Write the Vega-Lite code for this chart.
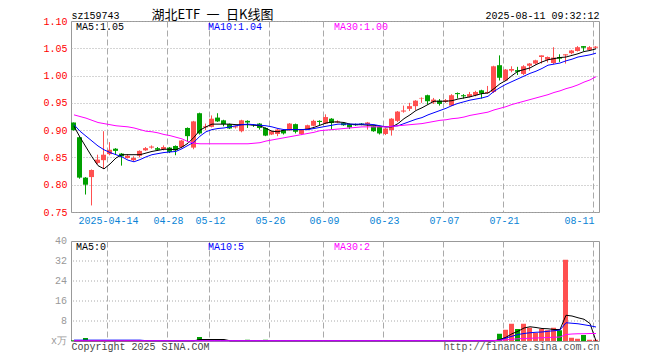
{
  "$schema": "https://vega.github.io/schema/vega-lite/v6.json",
  "padding": {"left": 42, "top": 7, "right": 0, "bottom": 0},
  "background": "white",
  "bounds": "flush",
  "spacing": 29,
  "config": {
    "view": {"stroke": "#999999", "strokeWidth": 1},
    "font": "Liberation Mono",
    "axis": {
      "labelFont": "Liberation Mono", "labelFontSize": 10,
      "titleFont": "Liberation Mono", "titleFontSize": 10, "titleFontWeight": "normal",
      "domain": false, "ticks": false, "labelOverlap": false
    }
  },
  "datasets": {
    "k": [
      {"d":"2025-04-03","o":0.914,"h":0.914,"l":0.899,"c":0.900,"v":0.3,"m5":0.907,"m10":0.910,"m30":0.928,"vm5":0.1,"vm10":0.35,"vm30":0.1},
      {"d":"2025-04-07","o":0.887,"h":0.888,"l":0.811,"c":0.813,"v":0.3,"m5":0.887,"m10":0.898,"m30":0.925,"vm5":0.1,"vm10":0.35,"vm30":0.1},
      {"d":"2025-04-08","o":0.813,"h":0.814,"l":0.782,"c":0.800,"v":1.2,"m5":0.869,"m10":0.889,"m30":0.922,"vm5":0.1,"vm10":0.35,"vm30":0.1},
      {"d":"2025-04-09","o":0.814,"h":0.828,"l":0.762,"c":0.827,"v":0.3,"m5":0.851,"m10":0.880,"m30":0.918,"vm5":0.1,"vm10":0.35,"vm30":0.1},
      {"d":"2025-04-10","o":0.840,"h":0.855,"l":0.838,"c":0.846,"v":0.3,"m5":0.835,"m10":0.871,"m30":0.914,"vm5":0.1,"vm10":0.35,"vm30":0.1},
      {"d":"2025-04-11","o":0.845,"h":0.898,"l":0.829,"c":0.855,"v":0.3,"m5":0.829,"m10":0.864,"m30":0.912,"vm5":0.1,"vm10":0.35,"vm30":0.1},
      {"d":"2025-04-14","o":0.856,"h":0.878,"l":0.854,"c":0.864,"v":0.3,"m5":0.838,"m10":0.859,"m30":0.910,"vm5":0.1,"vm10":0.35,"vm30":0.1},
      {"d":"2025-04-15","o":0.866,"h":0.867,"l":0.855,"c":0.862,"v":0.3,"m5":0.849,"m10":0.855,"m30":0.908,"vm5":0.1,"vm10":0.35,"vm30":0.1},
      {"d":"2025-04-16","o":0.857,"h":0.858,"l":0.835,"c":0.852,"v":0.3,"m5":0.855,"m10":0.851,"m30":0.907,"vm5":0.1,"vm10":0.35,"vm30":0.1},
      {"d":"2025-04-17","o":0.849,"h":0.856,"l":0.848,"c":0.853,"v":0.3,"m5":0.855,"m10":0.845,"m30":0.906,"vm5":0.1,"vm10":0.35,"vm30":0.1},
      {"d":"2025-04-18","o":0.845,"h":0.852,"l":0.843,"c":0.849,"v":0.3,"m5":0.855,"m10":0.842,"m30":0.904,"vm5":0.1,"vm10":0.35,"vm30":0.1},
      {"d":"2025-04-21","o":0.853,"h":0.863,"l":0.850,"c":0.862,"v":0.3,"m5":0.855,"m10":0.846,"m30":0.901,"vm5":0.1,"vm10":0.35,"vm30":0.1},
      {"d":"2025-04-22","o":0.863,"h":0.869,"l":0.862,"c":0.867,"v":0.3,"m5":0.858,"m10":0.851,"m30":0.898,"vm5":0.1,"vm10":0.15,"vm30":0.1},
      {"d":"2025-04-23","o":0.868,"h":0.872,"l":0.866,"c":0.870,"v":0.3,"m5":0.861,"m10":0.855,"m30":0.897,"vm5":0.1,"vm10":0.15,"vm30":0.1},
      {"d":"2025-04-24","o":0.867,"h":0.869,"l":0.863,"c":0.864,"v":0.3,"m5":0.863,"m10":0.857,"m30":0.895,"vm5":0.1,"vm10":0.15,"vm30":0.1},
      {"d":"2025-04-25","o":0.865,"h":0.872,"l":0.863,"c":0.869,"v":0.3,"m5":0.865,"m10":0.859,"m30":0.892,"vm5":0.1,"vm10":0.15,"vm30":0.1},
      {"d":"2025-04-28","o":0.868,"h":0.869,"l":0.858,"c":0.860,"v":0.3,"m5":0.865,"m10":0.860,"m30":0.890,"vm5":0.1,"vm10":0.15,"vm30":0.1},
      {"d":"2025-04-29","o":0.871,"h":0.872,"l":0.854,"c":0.863,"v":0.3,"m5":0.864,"m10":0.861,"m30":0.887,"vm5":0.1,"vm10":0.15,"vm30":0.1},
      {"d":"2025-04-30","o":0.869,"h":0.882,"l":0.867,"c":0.881,"v":0.3,"m5":0.869,"m10":0.866,"m30":0.884,"vm5":0.1,"vm10":0.15,"vm30":0.1},
      {"d":"2025-05-06","o":0.904,"h":0.905,"l":0.878,"c":0.889,"v":0.3,"m5":0.876,"m10":0.872,"m30":0.879,"vm5":0.1,"vm10":0.15,"vm30":0.1},
      {"d":"2025-05-07","o":0.868,"h":0.917,"l":0.865,"c":0.916,"v":0.3,"m5":0.887,"m10":0.878,"m30":0.876,"vm5":0.1,"vm10":0.15,"vm30":0.1},
      {"d":"2025-05-08","o":0.931,"h":0.932,"l":0.892,"c":0.894,"v":1.6,"m5":0.900,"m10":0.889,"m30":0.875,"vm5":0.6,"vm10":0.15,"vm30":0.1},
      {"d":"2025-05-09","o":0.905,"h":0.912,"l":0.900,"c":0.907,"v":0.3,"m5":0.906,"m10":0.897,"m30":0.875,"vm5":0.6,"vm10":0.15,"vm30":0.1},
      {"d":"2025-05-12","o":0.906,"h":0.927,"l":0.905,"c":0.921,"v":0.3,"m5":0.911,"m10":0.901,"m30":0.875,"vm5":0.6,"vm10":0.15,"vm30":0.1},
      {"d":"2025-05-13","o":0.923,"h":0.931,"l":0.915,"c":0.916,"v":0.3,"m5":0.911,"m10":0.903,"m30":0.875,"vm5":0.6,"vm10":0.15,"vm30":0.1},
      {"d":"2025-05-14","o":0.918,"h":0.919,"l":0.907,"c":0.911,"v":0.3,"m5":0.911,"m10":0.904,"m30":0.875,"vm5":0.6,"vm10":0.15,"vm30":0.1},
      {"d":"2025-05-15","o":0.911,"h":0.912,"l":0.902,"c":0.903,"v":0.3,"m5":0.911,"m10":0.906,"m30":0.875,"vm5":0.1,"vm10":0.15,"vm30":0.1},
      {"d":"2025-05-16","o":0.905,"h":0.908,"l":0.903,"c":0.907,"v":0.3,"m5":0.910,"m10":0.908,"m30":0.875,"vm5":0.1,"vm10":0.15,"vm30":0.1},
      {"d":"2025-05-19","o":0.898,"h":0.919,"l":0.896,"c":0.918,"v":0.3,"m5":0.910,"m10":0.910,"m30":0.875,"vm5":0.1,"vm10":0.15,"vm30":0.1},
      {"d":"2025-05-20","o":0.917,"h":0.918,"l":0.904,"c":0.914,"v":0.5,"m5":0.910,"m10":0.911,"m30":0.875,"vm5":0.1,"vm10":0.15,"vm30":0.1},
      {"d":"2025-05-21","o":0.910,"h":0.911,"l":0.906,"c":0.909,"v":0.3,"m5":0.909,"m10":0.910,"m30":0.876,"vm5":0.1,"vm10":0.15,"vm30":0.1},
      {"d":"2025-05-22","o":0.912,"h":0.913,"l":0.901,"c":0.904,"v":0.3,"m5":0.908,"m10":0.909,"m30":0.877,"vm5":0.1,"vm10":0.15,"vm30":0.1},
      {"d":"2025-05-23","o":0.904,"h":0.905,"l":0.889,"c":0.890,"v":0.5,"m5":0.903,"m10":0.908,"m30":0.880,"vm5":0.1,"vm10":0.15,"vm30":0.1},
      {"d":"2025-05-26","o":0.892,"h":0.899,"l":0.891,"c":0.898,"v":0.3,"m5":0.898,"m10":0.906,"m30":0.882,"vm5":0.1,"vm10":0.15,"vm30":0.1},
      {"d":"2025-05-27","o":0.893,"h":0.902,"l":0.889,"c":0.901,"v":0.3,"m5":0.897,"m10":0.903,"m30":0.884,"vm5":0.1,"vm10":0.15,"vm30":0.1},
      {"d":"2025-05-28","o":0.900,"h":0.901,"l":0.892,"c":0.894,"v":0.3,"m5":0.900,"m10":0.901,"m30":0.886,"vm5":0.1,"vm10":0.15,"vm30":0.1},
      {"d":"2025-05-29","o":0.900,"h":0.913,"l":0.899,"c":0.912,"v":0.3,"m5":0.901,"m10":0.901,"m30":0.888,"vm5":0.1,"vm10":0.15,"vm30":0.1},
      {"d":"2025-05-30","o":0.911,"h":0.912,"l":0.894,"c":0.897,"v":0.3,"m5":0.901,"m10":0.901,"m30":0.890,"vm5":0.1,"vm10":0.15,"vm30":0.1},
      {"d":"2025-06-03","o":0.893,"h":0.902,"l":0.891,"c":0.901,"v":0.3,"m5":0.901,"m10":0.901,"m30":0.892,"vm5":0.1,"vm10":0.15,"vm30":0.1},
      {"d":"2025-06-04","o":0.901,"h":0.910,"l":0.900,"c":0.909,"v":0.3,"m5":0.902,"m10":0.901,"m30":0.894,"vm5":0.1,"vm10":0.15,"vm30":0.1},
      {"d":"2025-06-05","o":0.908,"h":0.919,"l":0.907,"c":0.917,"v":0.3,"m5":0.905,"m10":0.903,"m30":0.896,"vm5":0.1,"vm10":0.15,"vm30":0.1},
      {"d":"2025-06-06","o":0.917,"h":0.918,"l":0.909,"c":0.915,"v":0.3,"m5":0.909,"m10":0.905,"m30":0.899,"vm5":0.1,"vm10":0.15,"vm30":0.1},
      {"d":"2025-06-09","o":0.912,"h":0.929,"l":0.911,"c":0.924,"v":0.3,"m5":0.913,"m10":0.907,"m30":0.900,"vm5":0.1,"vm10":0.15,"vm30":0.1},
      {"d":"2025-06-10","o":0.921,"h":0.922,"l":0.901,"c":0.913,"v":0.3,"m5":0.915,"m10":0.909,"m30":0.901,"vm5":0.1,"vm10":0.15,"vm30":0.1},
      {"d":"2025-06-11","o":0.914,"h":0.918,"l":0.913,"c":0.916,"v":0.3,"m5":0.915,"m10":0.911,"m30":0.902,"vm5":0.1,"vm10":0.15,"vm30":0.1},
      {"d":"2025-06-12","o":0.913,"h":0.914,"l":0.908,"c":0.909,"v":0.3,"m5":0.914,"m10":0.911,"m30":0.903,"vm5":0.1,"vm10":0.15,"vm30":0.1},
      {"d":"2025-06-13","o":0.911,"h":0.912,"l":0.902,"c":0.905,"v":0.3,"m5":0.911,"m10":0.911,"m30":0.904,"vm5":0.1,"vm10":0.15,"vm30":0.1},
      {"d":"2025-06-16","o":0.911,"h":0.912,"l":0.908,"c":0.909,"v":0.3,"m5":0.910,"m10":0.911,"m30":0.905,"vm5":0.1,"vm10":0.15,"vm30":0.1},
      {"d":"2025-06-17","o":0.912,"h":0.913,"l":0.909,"c":0.910,"v":0.3,"m5":0.910,"m10":0.911,"m30":0.906,"vm5":0.1,"vm10":0.15,"vm30":0.1},
      {"d":"2025-06-18","o":0.911,"h":0.915,"l":0.901,"c":0.914,"v":0.3,"m5":0.909,"m10":0.911,"m30":0.906,"vm5":0.1,"vm10":0.15,"vm30":0.1},
      {"d":"2025-06-19","o":0.907,"h":0.908,"l":0.897,"c":0.898,"v":0.3,"m5":0.909,"m10":0.910,"m30":0.906,"vm5":0.1,"vm10":0.15,"vm30":0.1},
      {"d":"2025-06-20","o":0.906,"h":0.907,"l":0.892,"c":0.894,"v":0.3,"m5":0.907,"m10":0.908,"m30":0.906,"vm5":0.1,"vm10":0.15,"vm30":0.1},
      {"d":"2025-06-23","o":0.893,"h":0.904,"l":0.891,"c":0.903,"v":0.3,"m5":0.906,"m10":0.906,"m30":0.906,"vm5":0.1,"vm10":0.15,"vm30":0.1},
      {"d":"2025-06-24","o":0.900,"h":0.922,"l":0.890,"c":0.921,"v":0.3,"m5":0.906,"m10":0.907,"m30":0.907,"vm5":0.1,"vm10":0.15,"vm30":0.1},
      {"d":"2025-06-25","o":0.917,"h":0.935,"l":0.915,"c":0.934,"v":0.3,"m5":0.912,"m10":0.908,"m30":0.908,"vm5":0.1,"vm10":0.15,"vm30":0.1},
      {"d":"2025-06-26","o":0.934,"h":0.945,"l":0.932,"c":0.936,"v":0.3,"m5":0.921,"m10":0.912,"m30":0.909,"vm5":0.1,"vm10":0.15,"vm30":0.1},
      {"d":"2025-06-27","o":0.939,"h":0.950,"l":0.935,"c":0.944,"v":0.3,"m5":0.928,"m10":0.916,"m30":0.910,"vm5":0.1,"vm10":0.15,"vm30":0.1},
      {"d":"2025-06-30","o":0.944,"h":0.955,"l":0.937,"c":0.954,"v":0.3,"m5":0.936,"m10":0.920,"m30":0.911,"vm5":0.1,"vm10":0.15,"vm30":0.1},
      {"d":"2025-07-01","o":0.958,"h":0.960,"l":0.950,"c":0.959,"v":0.3,"m5":0.941,"m10":0.923,"m30":0.912,"vm5":0.1,"vm10":0.15,"vm30":0.1},
      {"d":"2025-07-02","o":0.964,"h":0.965,"l":0.947,"c":0.953,"v":0.3,"m5":0.947,"m10":0.928,"m30":0.914,"vm5":0.1,"vm10":0.15,"vm30":0.1},
      {"d":"2025-07-03","o":0.951,"h":0.959,"l":0.948,"c":0.956,"v":0.3,"m5":0.953,"m10":0.932,"m30":0.916,"vm5":0.1,"vm10":0.15,"vm30":0.1},
      {"d":"2025-07-04","o":0.954,"h":0.957,"l":0.945,"c":0.948,"v":0.3,"m5":0.953,"m10":0.936,"m30":0.918,"vm5":0.1,"vm10":0.15,"vm30":0.1},
      {"d":"2025-07-07","o":0.952,"h":0.957,"l":0.950,"c":0.955,"v":0.3,"m5":0.953,"m10":0.940,"m30":0.919,"vm5":0.1,"vm10":0.15,"vm30":0.1},
      {"d":"2025-07-08","o":0.945,"h":0.966,"l":0.944,"c":0.964,"v":0.3,"m5":0.954,"m10":0.945,"m30":0.921,"vm5":0.1,"vm10":0.15,"vm30":0.1},
      {"d":"2025-07-09","o":0.968,"h":0.969,"l":0.958,"c":0.966,"v":0.3,"m5":0.957,"m10":0.949,"m30":0.922,"vm5":0.1,"vm10":0.15,"vm30":0.1},
      {"d":"2025-07-10","o":0.964,"h":0.966,"l":0.958,"c":0.962,"v":0.3,"m5":0.959,"m10":0.952,"m30":0.924,"vm5":0.1,"vm10":0.15,"vm30":0.1},
      {"d":"2025-07-11","o":0.961,"h":0.970,"l":0.960,"c":0.966,"v":0.3,"m5":0.961,"m10":0.955,"m30":0.927,"vm5":0.1,"vm10":0.15,"vm30":0.1},
      {"d":"2025-07-14","o":0.964,"h":0.972,"l":0.962,"c":0.970,"v":0.3,"m5":0.964,"m10":0.957,"m30":0.929,"vm5":0.1,"vm10":0.15,"vm30":0.1},
      {"d":"2025-07-15","o":0.973,"h":0.974,"l":0.958,"c":0.967,"v":0.3,"m5":0.967,"m10":0.959,"m30":0.931,"vm5":0.1,"vm10":0.15,"vm30":0.1},
      {"d":"2025-07-16","o":0.968,"h":0.981,"l":0.967,"c":0.970,"v":0.3,"m5":0.968,"m10":0.962,"m30":0.933,"vm5":0.1,"vm10":0.15,"vm30":0.1},
      {"d":"2025-07-17","o":0.970,"h":1.018,"l":0.968,"c":1.017,"v":0.3,"m5":0.976,"m10":0.971,"m30":0.937,"vm5":0.1,"vm10":0.15,"vm30":0.15},
      {"d":"2025-07-18","o":1.019,"h":1.037,"l":0.991,"c":0.996,"v":2.9,"m5":0.985,"m10":0.978,"m30":0.940,"vm5":0.6,"vm10":0.3,"vm30":0.3},
      {"d":"2025-07-21","o":0.991,"h":1.012,"l":0.990,"c":1.011,"v":4.5,"m5":0.991,"m10":0.984,"m30":0.943,"vm5":1.5,"vm10":1.2,"vm30":0.5},
      {"d":"2025-07-22","o":1.009,"h":1.017,"l":1.006,"c":1.012,"v":6.9,"m5":1.000,"m10":0.989,"m30":0.947,"vm5":2.9,"vm10":1.9,"vm30":0.7},
      {"d":"2025-07-23","o":1.010,"h":1.016,"l":1.001,"c":1.007,"v":4.8,"m5":1.008,"m10":0.994,"m30":0.950,"vm5":3.9,"vm10":2.6,"vm30":0.9},
      {"d":"2025-07-24","o":1.003,"h":1.019,"l":1.001,"c":1.017,"v":6.9,"m5":1.011,"m10":0.999,"m30":0.953,"vm5":5.2,"vm10":3.0,"vm30":1.0},
      {"d":"2025-07-25","o":1.018,"h":1.023,"l":1.009,"c":1.022,"v":5.3,"m5":1.014,"m10":1.004,"m30":0.956,"vm5":5.7,"vm10":3.3,"vm30":1.1},
      {"d":"2025-07-28","o":1.022,"h":1.029,"l":1.020,"c":1.028,"v":3.2,"m5":1.020,"m10":1.008,"m30":0.959,"vm5":5.4,"vm10":3.5,"vm30":1.2},
      {"d":"2025-07-29","o":1.034,"h":1.037,"l":1.022,"c":1.037,"v":4.8,"m5":1.025,"m10":1.013,"m30":0.962,"vm5":5.0,"vm10":3.6,"vm30":1.3},
      {"d":"2025-07-30","o":1.029,"h":1.035,"l":1.024,"c":1.034,"v":4.3,"m5":1.029,"m10":1.019,"m30":0.965,"vm5":4.9,"vm10":3.9,"vm30":1.4},
      {"d":"2025-07-31","o":1.023,"h":1.052,"l":1.021,"c":1.033,"v":5.3,"m5":1.031,"m10":1.021,"m30":0.969,"vm5":4.6,"vm10":4.1,"vm30":1.5},
      {"d":"2025-08-01","o":1.034,"h":1.039,"l":1.025,"c":1.031,"v":4.3,"m5":1.033,"m10":1.023,"m30":0.972,"vm5":4.6,"vm10":4.4,"vm30":1.6},
      {"d":"2025-08-04","o":1.037,"h":1.039,"l":1.022,"c":1.039,"v":32.5,"m5":1.034,"m10":1.027,"m30":0.976,"vm5":10.3,"vm10":7.3,"vm30":2.6},
      {"d":"2025-08-05","o":1.041,"h":1.047,"l":1.039,"c":1.046,"v":1.3,"m5":1.037,"m10":1.030,"m30":0.979,"vm5":10.0,"vm10":7.1,"vm30":2.8},
      {"d":"2025-08-06","o":1.045,"h":1.054,"l":1.044,"c":1.052,"v":0.9,"m5":1.040,"m10":1.034,"m30":0.983,"vm5":9.3,"vm10":6.9,"vm30":2.9},
      {"d":"2025-08-07","o":1.054,"h":1.054,"l":1.045,"c":1.051,"v":2.4,"m5":1.044,"m10":1.036,"m30":0.988,"vm5":8.7,"vm10":6.5,"vm30":2.9},
      {"d":"2025-08-08","o":1.047,"h":1.054,"l":1.046,"c":1.052,"v":0.5,"m5":1.046,"m10":1.038,"m30":0.992,"vm5":7.0,"vm10":6.1,"vm30":3.0},
      {"d":"2025-08-11","o":1.051,"h":1.054,"l":1.049,"c":1.053,"v":0.5,"m5":1.049,"m10":1.041,"m30":0.998,"vm5":0,"vm10":5.6,"vm30":3.0}
    ],
    "labTop": [
      {"d":"2025-04-03","t":"MA5:1.05","k":"m5"},
      {"d":"2025-05-09","t":"MA10:1.04","k":"m10"},
      {"d":"2025-06-10","t":"MA30:1.00","k":"m30"}
    ],
    "labVol": [
      {"d":"2025-04-03","t":"MA5:0","k":"m5"},
      {"d":"2025-05-09","t":"MA10:5","k":"m10"},
      {"d":"2025-06-10","t":"MA30:2","k":"m30"}
    ],
    "volGrid": [{"g": 8}, {"g": 16}, {"g": 24}, {"g": 32}],
    "volTicks": [
      {"d":"2025-04-03","g":0,"t":"x万"},
      {"d":"2025-04-03","g":8,"t":"8"},
      {"d":"2025-04-03","g":16,"t":"16"},
      {"d":"2025-04-03","g":24,"t":"24"},
      {"d":"2025-04-03","g":32,"t":"32"},
      {"d":"2025-04-03","g":40,"t":"40"}
    ]
  },
  "vconcat": [
    {
      "width": 528,
      "height": 191,
      "data": {"name": "k"},
      "layer": [
        {
          "mark": {"type": "rule", "strokeWidth": 1, "xOffset": -0.5},
          "encoding": {
            "x": {
              "field": "d", "type": "ordinal",
              "scale": {"paddingInner": 0, "paddingOuter": 0},
              "axis": {
                "orient": "bottom", "title": null, "labelAngle": 0,
                "values": ["2025-04-14","2025-04-28","2025-05-12","2025-05-26","2025-06-09","2025-06-23","2025-07-07","2025-07-21","2025-08-11"],
                "labelExpr": "datum.value == '2025-04-14' ? datum.value : slice(datum.value, 5)",
                "labelAlign": {"condition": {"test": "datum.value == '2025-08-11'", "value": "right"}, "value": "center"},
                "labelOffset": -1.5,
                "labelColor": "#0a84d6", "labelPadding": 3, "bandPosition": 0.08,
                "grid": true, "gridColor": "#aaaaaa", "gridDash": [6, 3]
              }
            },
            "y": {
              "field": "l", "type": "quantitative",
              "scale": {"domain": [0.75, 1.10], "zero": false, "nice": false},
              "axis": {
                "orient": "left", "values": [0.75, 0.80, 0.85, 0.90, 0.95, 1.00, 1.05, 1.10], "tickCount": 10,
                "format": ".2f", "labelColor": "#ff0000", "labelPadding": 4,
                "grid": true, "gridColor": "#aaaaaa", "gridDash": [1, 2],
                "title": "sz159743", "titleAngle": 0, "titleX": 0, "titleY": -3,
                "titleAlign": "left", "titleBaseline": "alphabetic", "titleColor": "#000000"
              }
            },
            "y2": {"field": "h"},
            "color": {"condition": {"test": "datum.c >= datum.o", "value": "#ff5050"}, "value": "#00a000"}
          }
        },
        {
          "mark": {"type": "bar", "width": 5, "xOffset": -0.5},
          "encoding": {
            "x": {"field": "d", "type": "ordinal", "axis": null},
            "y": {"field": "o", "type": "quantitative", "axis": null},
            "y2": {"field": "c"},
            "color": {"condition": {"test": "datum.c >= datum.o", "value": "#ff5050"}, "value": "#00a000"}
          }
        },
        {
          "mark": {"type": "line", "stroke": "#000000", "strokeWidth": 1},
          "encoding": {
            "x": {"field": "d", "type": "ordinal", "axis": null},
            "y": {"field": "m5", "type": "quantitative", "axis": null}
          }
        },
        {
          "mark": {"type": "line", "stroke": "#0000ff", "strokeWidth": 1},
          "encoding": {
            "x": {"field": "d", "type": "ordinal", "axis": null},
            "y": {"field": "m10", "type": "quantitative", "axis": null}
          }
        },
        {
          "mark": {"type": "line", "stroke": "#ff00ff", "strokeWidth": 1},
          "encoding": {
            "x": {
              "field": "d", "type": "ordinal",
              "axis": {
                "orient": "top", "labels": false, "grid": false,
                "title": "湖北ETF\u2002一\u2002日K线图", "titleFont": "Noto Sans CJK SC", "titleFontSize": 13,
                "titleX": 80, "titleY": -3, "titleAlign": "left", "titleBaseline": "alphabetic",
                "titleColor": "#000000"
              }
            },
            "y": {
              "field": "m30", "type": "quantitative",
              "axis": {
                "orient": "right", "labels": false, "grid": false,
                "title": "2025-08-11 09:32:12", "titleAngle": 0, "titleX": 0, "titleY": -3,
                "titleAlign": "right", "titleBaseline": "alphabetic", "titleColor": "#000000"
              }
            }
          }
        },
        {
          "data": {"name": "labTop"},
          "mark": {"type": "text", "align": "left", "baseline": "alphabetic", "dx": 5, "dy": 9, "fontSize": 10, "font": "Liberation Mono"},
          "encoding": {
            "x": {"field": "d", "type": "ordinal", "bandPosition": 0, "axis": null},
            "y": {"datum": 1.10, "type": "quantitative", "axis": null},
            "text": {"field": "t"},
            "color": {"field": "k", "type": "nominal", "scale": {"domain": ["m5","m10","m30"], "range": ["#000000","#0000ff","#ff00ff"]}, "legend": null}
          }
        }
      ],
      "resolve": {"axis": {"x": "independent", "y": "independent"}}
    },
    {
      "width": 528,
      "height": 100,
      "data": {"name": "k"},
      "layer": [
        {
          "data": {"name": "volGrid"},
          "mark": {"type": "rule", "stroke": "#aaaaaa", "strokeWidth": 1, "strokeDash": [1, 2]},
          "encoding": {
            "y": {
              "field": "g", "type": "quantitative",
              "scale": {"domain": [0, 40], "nice": false, "zero": true},
              "axis": {
                "orient": "left", "labels": false, "grid": false,
                "title": "Copyright 2025 SINA.COM", "titleAngle": 0, "titleX": 0, "titleY": 108,
                "titleAlign": "left", "titleBaseline": "alphabetic", "titleColor": "#444444"
              }
            }
          }
        },
        {
          "mark": {"type": "bar", "width": 5, "xOffset": -0.5},
          "encoding": {
            "x": {
              "field": "d", "type": "ordinal",
              "scale": {"paddingInner": 0, "paddingOuter": 0},
              "axis": {
                "orient": "bottom", "labels": false, "bandPosition": 0.08,
                "values": ["2025-04-14","2025-04-28","2025-05-12","2025-05-26","2025-06-09","2025-06-23","2025-07-07","2025-07-21","2025-08-11"],
                "grid": true, "gridColor": "#aaaaaa", "gridDash": [6, 3],
                "title": "http://finance.sina.com.cn", "titleX": 528, "titleY": 8,
                "titleAlign": "right", "titleBaseline": "alphabetic", "titleColor": "#555555"
              }
            },
            "y": {"field": "v", "type": "quantitative", "axis": null},
            "color": {"condition": {"test": "datum.c >= datum.o", "value": "#ff5050"}, "value": "#00a000"}
          }
        },
        {
          "mark": {"type": "line", "stroke": "#000000", "strokeWidth": 1},
          "encoding": {
            "x": {"field": "d", "type": "ordinal", "axis": null},
            "y": {"field": "vm5", "type": "quantitative", "axis": null}
          }
        },
        {
          "mark": {"type": "line", "stroke": "#0000ff", "strokeWidth": 1},
          "encoding": {
            "x": {"field": "d", "type": "ordinal", "axis": null},
            "y": {"field": "vm10", "type": "quantitative", "axis": null}
          }
        },
        {
          "mark": {"type": "line", "stroke": "#ff00ff", "strokeWidth": 1},
          "encoding": {
            "x": {"field": "d", "type": "ordinal", "axis": null},
            "y": {"field": "vm30", "type": "quantitative", "axis": null}
          }
        },
        {
          "data": {"name": "labVol"},
          "mark": {"type": "text", "align": "left", "baseline": "alphabetic", "dx": 5, "dy": 9, "fontSize": 10, "font": "Liberation Mono"},
          "encoding": {
            "x": {"field": "d", "type": "ordinal", "bandPosition": 0, "axis": null},
            "y": {"datum": 40, "type": "quantitative", "axis": null},
            "text": {"field": "t"},
            "color": {"field": "k", "type": "nominal", "scale": {"domain": ["m5","m10","m30"], "range": ["#000000","#0000ff","#ff00ff"]}, "legend": null}
          }
        },
        {
          "data": {"name": "volTicks"},
          "mark": {"type": "text", "align": "right", "baseline": "middle", "dx": -4, "fontSize": 10, "font": "Liberation Mono", "color": "#999999"},
          "encoding": {
            "x": {"field": "d", "type": "ordinal", "bandPosition": 0, "axis": null},
            "y": {"field": "g", "type": "quantitative", "axis": null},
            "text": {"field": "t"}
          }
        }
      ],
      "resolve": {"axis": {"x": "independent", "y": "independent"}}
    }
  ]
}
